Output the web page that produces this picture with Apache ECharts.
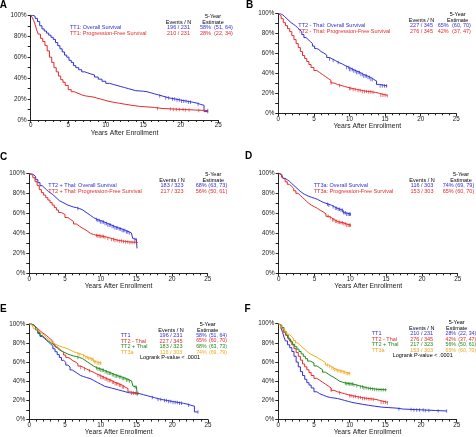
<!DOCTYPE html>
<html><head><meta charset="utf-8">
<script src="https://cdn.jsdelivr.net/npm/echarts/dist/echarts.min.js"></script>
<style>html,body{margin:0;padding:0;background:#fff}#c{width:476px;height:437px}</style>
</head><body><div id="c"></div>
<script>
// ---------------- DATA ----------------
const panelLetters = ['A','B','C','D','E','F'];
const xTickValues = [0,5,10,15,20,25];
const yTickValues = [0,20,40,60,80,100];
const xAxisTitle = 'Years After Enrollment';

// Kaplan-Meier curves: [years, survival %]
const tt1OS = [[0,100],[0.3,99],[0.6,97],[0.9,94],[1.2,90],[1.5,87],[1.8,85],[2.1,83],[2.4,81],[2.7,79],[3.0,77],[3.3,74],[3.6,71],[3.9,68],[4.2,65],[4.5,62],[4.8,60],[5.1,57],[5.4,55],[5.7,52],[6.0,50],[6.4,48],[6.8,46],[7.2,45],[7.6,44],[8.0,43],[8.5,41],[9.0,39],[9.5,37],[10.0,35],[10.5,34],[11.0,33],[11.5,32],[12.0,31],[12.5,30],[13.0,29],[13.5,28],[14.0,27.5],[15.0,27],[15.5,26],[16.0,25],[16.5,24],[17.0,23],[17.5,22],[18.0,21],[18.5,20],[19.3,19],[20.0,18],[20.8,17],[21.6,16],[22.2,15],[22.6,14],[23.1,8],[23.6,8]];
const tt1PFS = [[0,100],[0.2,98],[0.4,95],[0.6,91],[0.8,86],[1.0,82],[1.3,78],[1.6,75],[1.9,71],[2.2,66],[2.5,60],[2.8,55],[3.1,50],[3.4,46],[3.7,42],[4.0,38.5],[4.3,36],[4.6,33],[5.0,29],[5.4,27],[5.8,25.5],[6.3,24],[6.8,23],[7.3,22.5],[7.8,22],[8.3,21],[8.8,20],[9.3,19],[9.8,18],[10.3,17],[11.0,16],[11.8,15],[12.6,14],[13.5,13],[14.5,12.5],[15.5,12],[16.5,11],[17.5,10.5],[19.0,10],[20.5,9.5],[22.0,9],[23.6,9]];
const tt2mOS = [[0,100],[0.3,99],[0.6,97],[0.9,95],[1.2,93],[1.5,91],[1.8,89.5],[2.1,88],[2.4,86],[2.7,84],[3.0,82],[3.3,79],[3.6,76],[3.9,74],[4.2,72],[4.5,70],[4.8,67.5],[5.1,65],[5.4,64],[5.7,62],[6.0,60.5],[6.4,58.5],[6.8,56],[7.2,54.5],[7.6,53],[8.0,51],[8.5,49.5],[9.0,47.5],[9.5,46],[10.0,44],[10.5,42.5],[11.0,41],[11.5,39],[12.0,37.5],[12.5,36],[13.0,34],[13.4,32.5],[13.8,29],[14.2,27.5],[15.3,27]];
const tt2mPFS = [[0,100],[0.2,98],[0.4,95],[0.7,91],[1.0,88],[1.3,85],[1.6,82],[1.9,78],[2.2,74],[2.5,70],[2.8,66],[3.1,62],[3.4,58],[3.7,55],[4.0,52],[4.3,49],[4.6,46],[5.0,43],[5.4,41],[5.8,39],[6.2,37],[6.6,35],[7.0,33],[7.4,30.5],[7.8,29],[8.3,28],[8.8,27],[9.3,26],[9.8,25],[10.3,24],[11.0,23],[11.7,22],[12.5,21.5],[13.2,21],[13.7,20],[14.2,18],[15.3,17.5]];
const tt2pOS = [[0,100],[0.3,99],[0.6,97],[0.9,94],[1.2,91],[1.5,88],[1.8,86],[2.1,84],[2.4,82],[2.7,80.5],[3.0,79],[3.3,77],[3.6,75],[3.9,73],[4.2,71.5],[4.6,70],[5.0,68.5],[5.4,67.5],[5.8,66.5],[6.2,66],[6.6,65],[7.0,64],[7.4,62],[7.8,60],[8.2,58],[8.6,56],[9.0,54],[9.5,53],[10.0,51.5],[10.5,50],[11.0,48.5],[11.5,47],[12.0,45.5],[12.5,44.5],[13.0,43],[13.5,41.5],[14.0,40.5],[14.3,40],[14.5,35],[14.7,34],[15.0,33.5],[15.1,25]];
const tt2pPFS = [[0,100],[0.2,98.5],[0.5,96],[0.8,92],[1.1,88],[1.4,84],[1.7,81],[2.0,78.5],[2.3,76],[2.6,73.5],[2.9,71],[3.2,68.5],[3.5,66],[3.8,63.5],[4.1,61],[4.5,59],[5.0,56],[5.4,54],[5.8,52],[6.2,49.5],[6.6,47.5],[7.0,45.5],[7.4,44],[7.8,42],[8.2,40],[8.6,39],[9.0,38],[9.5,37.5],[10.0,37],[10.5,36],[11.0,35],[11.5,34],[12.0,33],[12.5,32.5],[13.0,32],[13.5,31.5],[14.0,31],[15.2,31]];
const tt3aOS = [[0,100],[0.2,99],[0.4,97],[0.6,95],[0.9,93.5],[1.2,92],[1.5,90],[1.8,88],[2.1,86],[2.4,84],[2.7,82],[3.0,80.5],[3.3,79],[3.6,78],[3.9,77],[4.2,76],[4.6,75],[5.0,74],[5.4,72.5],[5.8,71],[6.2,70],[6.6,69],[7.0,68],[7.4,66.5],[7.8,65],[8.2,64],[8.6,63],[9.0,60.5],[9.4,59],[10.1,58.5]];
const tt3aPFS = [[0,100],[0.2,98.5],[0.4,96],[0.6,94],[0.9,91.5],[1.2,89],[1.5,87],[1.8,85],[2.1,82.5],[2.4,80],[2.7,78],[3.0,76],[3.3,74],[3.6,72],[3.9,70],[4.2,68],[4.6,66.5],[5.0,65],[5.4,63],[5.8,61.5],[6.2,59.5],[6.6,57],[7.0,55.5],[7.4,53.5],[7.8,52],[8.2,51],[8.6,50.5],[9.0,49.5],[9.4,48],[10.1,48]];

// censoring times (years)
const tt1OSCens = [17.2,18.0,18.4,18.9,19.2,19.5,19.8,20.1,20.4,20.7,21.0,21.3,22.3,23.6];
const tt1PFSCens = [16.9,18.6,19.0,19.4,19.8,20.3,20.6,21.1,22.4,23.6];
const tt2mOSCens = [7.2,7.7,8.4,9.6,9.9,10.0,10.2,10.4,10.6,10.8,11.0,11.2,11.4,11.6,11.8,12.0,12.2,12.4,12.6,12.8,13.0,13.2,14.3,14.6,14.9,15.2];
const tt2mPFSCens = [7.4,8.6,10.0,10.2,10.5,10.8,11.2,11.5,11.8,12.1,12.4,12.7,13.0,13.3,14.4,14.7,15.0,15.3];
const tt2pOSCens = [6.8,9.4,9.6,9.8,10.0,10.2,10.4,10.6,10.8,11.0,11.2,11.4,11.6,11.8,12.0,12.2,12.4,12.6,12.8,13.0,13.2,13.4,13.6,13.8,14.0,14.8,15.0];
const tt2pPFSCens = [9.4,9.6,9.8,10.0,10.2,10.4,10.6,11.0,11.5,11.8,12.0,12.3,12.6,12.9,13.2,13.5,13.8,14.1,14.4,14.7,15.0];
const tt3aOSCens = [6.8,7.0,7.6,7.9,8.1,8.3,8.5,8.7,8.9,9.1,9.3,9.5,9.7,9.9,10.0];
const tt3aPFSCens = [6.9,7.2,7.5,7.7,7.9,8.1,8.3,8.5,8.7,8.9,9.1,9.3,9.5,9.7,9.9,10.0];

// legend texts
const labelsA = ['TT1: Overall Survival','TT1: Progression-Free Survival'];
const labelsB = ['TT2 - Thal: Overall Survival','TT2 - Thal: Progression-Free Survival'];
const labelsC = ['TT2 + Thal: Overall Survival','TT2 + Thal: Progression-Free Survival'];
const labelsD = ['TT3a: Overall Survival','TT3a: Progression-Free Survival'];
const labelsEF = ['TT1','TT2 - Thal','TT2 + Thal','TT3a'];
const eventsOS = ['196 / 231','227 / 345','183 / 323','116 / 303'];
const eventsPFS = ['210 / 231','276 / 345','217 / 323','153 / 303'];
const estOS = ['58%','65%','68%','74%'];
const ciOS = ['(51, 64)','(60, 70)','(63, 73)','(69, 79)'];
const estPFS = ['28%','42%','56%','65%'];
const ciPFS = ['(22, 34)','(37, 47)','(50, 61)','(60, 70)'];
const headerEvents = 'Events / N';
const header5y = ['5-Year','Estimate'];
const logrankText = 'Logrank P-value < .0001';

// ---------------- STYLE / LAYOUT ----------------
const BLUE='#2f2fd8', RED='#e42a2a', GREEN='#1f8a1f', ORANGE='#f2a81d';
const FONT='Liberation Sans, Arial, sans-serif';
const LFS=5.5; // legend font size
const grids = [
  {left:30.7, top:15.3, width:187.6, height:104.7},
  {left:278.3, top:13.7, width:178, height:99.6},
  {left:29.3, top:173.7, width:178.4, height:99.6},
  {left:278.7, top:173.3, width:179, height:100},
  {left:29.3, top:324, width:178.7, height:98.7},
  {left:278.3, top:323.7, width:178.4, height:99.3}
];
const panels = [
  {curves:[[tt1OS,tt1OSCens,BLUE],[tt1PFS,tt1PFSCens,RED]]},
  {curves:[[tt2mOS,tt2mOSCens,BLUE],[tt2mPFS,tt2mPFSCens,RED]]},
  {curves:[[tt2pOS,tt2pOSCens,BLUE],[tt2pPFS,tt2pPFSCens,RED]]},
  {curves:[[tt3aOS,tt3aOSCens,BLUE],[tt3aPFS,tt3aPFSCens,RED]]},
  {curves:[[tt1OS,tt1OSCens,BLUE],[tt2mOS,tt2mOSCens,RED],[tt2pOS,tt2pOSCens,GREEN],[tt3aOS,tt3aOSCens,ORANGE]]},
  {curves:[[tt1PFS,tt1PFSCens,BLUE],[tt2mPFS,tt2mPFSCens,RED],[tt2pPFS,tt2pPFSCens,GREEN],[tt3aPFS,tt3aPFSCens,ORANGE]]}
];

function survAt(curve,t){let s=curve[0][1];for(const [tt,v] of curve){if(tt<=t)s=v;else break;}return s;}

const axisColor='#222';
const xAxes=[], yAxes=[], series=[];
grids.forEach((g,i)=>{
  xAxes.push({gridIndex:i,type:'value',min:xTickValues[0],max:xTickValues[xTickValues.length-1],interval:5,
    name:xAxisTitle,nameLocation:'middle',nameGap:8,
    nameTextStyle:{fontSize:6.8,color:axisColor,fontFamily:FONT},
    axisLine:{show:true,onZero:false,lineStyle:{color:axisColor,width:1}},
    axisTick:{show:true,length:3,lineStyle:{color:axisColor}},
    minorTick:{show:true,splitNumber:5,length:2,lineStyle:{color:axisColor}},
    axisLabel:{fontSize:6.3,color:axisColor,margin:2.5,fontFamily:FONT},
    splitLine:{show:false}});
  yAxes.push({gridIndex:i,type:'value',min:yTickValues[0],max:yTickValues[yTickValues.length-1],interval:20,
    axisLine:{show:true,onZero:false,lineStyle:{color:axisColor,width:1}},
    axisTick:{show:true,length:3,lineStyle:{color:axisColor}},
    minorTick:{show:true,splitNumber:2,length:3,lineStyle:{color:axisColor}},
    axisLabel:{fontSize:6.3,color:axisColor,margin:4,formatter:'{value}%',fontFamily:FONT},
    splitLine:{show:false}});
  panels[i].curves.forEach(([curve,cens,color])=>{
    series.push({type:'line',xAxisIndex:i,yAxisIndex:i,step:'end',data:curve,showSymbol:false,
      lineStyle:{color,width:1},silent:true,z:2});
    series.push({type:'scatter',xAxisIndex:i,yAxisIndex:i,data:cens.map(t=>[t,survAt(curve,t)]),
      symbol:'rect',symbolSize:[0.8,3.5],itemStyle:{color},silent:true,z:3});
  });
});

// ---------------- TEXT ----------------
const graphic=[];
function txt(text,x,y,color,align,size,weight){
  graphic.push({type:'text',x:0,y:0,silent:true,style:{text,x,y,fill:color||'#000',
    font:(weight||'normal')+' '+(size||LFS)+'px '+FONT,
    align:align||'left',textAlign:align||'left',verticalAlign:'middle',textVerticalAlign:'middle'}});
}
const letterPos=[[3.3,5],[249.5,5],[3.7,157.3],[248.6,156.7],[3.3,309],[247.6,309]];
panelLetters.forEach((L,i)=>txt(L,letterPos[i][0],letterPos[i][1],'#000','center',10,'bold'));

// two-curve panels A-D
const twoPanels=[
  {labels:labelsA,idx:0,lx:70,rows:[27.7,33.7],ev:178.5,pct:200,ci:214,est:213,hy:22.7},
  {labels:labelsB,idx:1,lx:298.3,rows:[25.7,31.3],ev:421.5,pct:437.7,ci:452,est:457.7,hy:20.7},
  {labels:labelsC,idx:2,lx:48.3,rows:[185.7,191.7],ev:172,pct:195.7,ci:208.3,est:213.3,hy:180},
  {labels:labelsD,idx:3,lx:313.7,rows:[185.7,191.7],ev:422,pct:442.7,ci:455.3,est:461,hy:180}
];
twoPanels.forEach(p=>{
  txt(headerEvents,p.ev,p.hy,'#000','center');
  txt(header5y[0],p.est,p.hy-6,'#000','center');
  txt(header5y[1],p.est,p.hy,'#000','center');
  const cols=[BLUE,RED];
  [[eventsOS,estOS,ciOS],[eventsPFS,estPFS,ciPFS]].forEach((arr,r)=>{
    txt(p.labels[r],p.lx,p.rows[r],cols[r],'left');
    txt(arr[0][p.idx],p.ev,p.rows[r],cols[r],'center');
    txt(arr[1][p.idx],p.pct,p.rows[r],cols[r],'left');
    txt(arr[2][p.idx],p.ci,p.rows[r],cols[r],'left');
  });
});
// four-curve panels E, F
const fourPanels=[
  {ev:eventsOS,pc:estOS,ci:ciOS,lx:120.7,rows:[335.3,341,346.7,352.3],evx:171,pct:196.2,cix:209,est:207.7,hy:330,lr:[170,357.8]},
  {ev:eventsPFS,pc:estPFS,ci:ciPFS,lx:371.7,rows:[333.6,339.2,344.8,350.3],evx:421.7,pct:445.5,cix:458.3,est:456.7,hy:328,lr:[422.7,355.8]}
];
const cols4=[BLUE,RED,GREEN,ORANGE];
fourPanels.forEach(p=>{
  txt(headerEvents,p.evx,p.hy,'#000','center');
  txt(header5y[0],p.est,p.hy-5.5,'#000','center');
  txt(header5y[1],p.est,p.hy,'#000','center');
  labelsEF.forEach((l,k)=>{
    txt(l,p.lx,p.rows[k],cols4[k],'left');
    txt(p.ev[k],p.evx,p.rows[k],cols4[k],'center');
    txt(p.pc[k],p.pct,p.rows[k],cols4[k],'left',5.2);
    txt(p.ci[k],p.cix,p.rows[k],cols4[k],'left',5.2);
  });
  txt(logrankText,p.lr[0],p.lr[1],'#000','center');
});

const chart=echarts.init(document.getElementById('c'),null,{renderer:'canvas'});
chart.setOption({animation:false,backgroundColor:'#fff',
  grid:grids.map(g=>Object.assign({containLabel:false},g)),
  xAxis:xAxes,yAxis:yAxes,series,graphic});
</script></body></html>
